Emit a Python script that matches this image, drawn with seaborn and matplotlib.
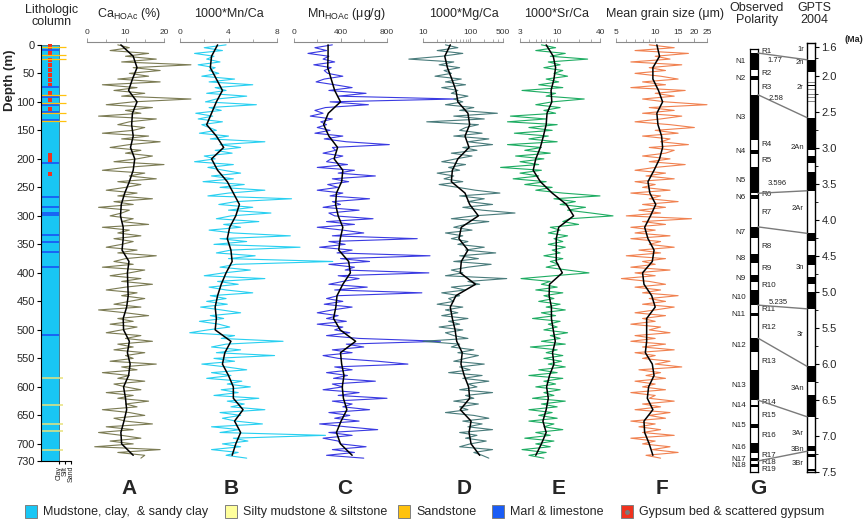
import numpy as np
import matplotlib
matplotlib.use("Agg")
import matplotlib.pyplot as plt
import seaborn as sns
from matplotlib.patches import Rectangle, ConnectionPatch
from matplotlib.lines import Line2D
from matplotlib.ticker import MultipleLocator, NullFormatter

W, H = 865, 522


def rect(x0, x1, y0, y1):
    # pixel box -> figure fraction
    return [x0 / W, 1 - y1 / H, (x1 - x0) / W, (y1 - y0) / H]


def fxy(x, y):
    return x / W, 1 - y / H


# ---------------- data ----------------
depth_raw = np.arange(0, 730, 5)        # sample depths (m)
depth_smooth = np.arange(0, 740, 20)    # running mean depths (m)

ca_raw = [8, 11, 6, 16, 10, 18, 9, 27, 12, 19,
          11, 16, 8, 19, 4, 13, 7, 15, 9, 27,
          12, 5, 17, 10, 14, 3, 18, 11, 8, 15,
          12, 4, 16, 9, 19, 11, 6, 14, 10, 17,
          13, 7, 20, 10, 4, 15, 11, 18, 8, 14,
          10, 5, 13, 8, 17, 7, 12, 3, 11, 9,
          6, 12, 9, 16, 4, 11, 8, 14, 7, 12,
          9, 5, 13, 8, 18, 10, 7, 12, 4, 15,
          11, 6, 14, 9, 17, 10, 5, 13, 9, 15,
          11, 7, 14, 3, 10, 16, 8, 12, 6, 13,
          9, 5, 14, 10, 17, 8, 12, 7, 15, 10,
          12, 6, 18, 9, 13, 4, 11, 8, 15, 7,
          10, 14, 5, 12, 8, 16, 10, 13, 4, 11,
          15, 7, 10, 17, 5, 12, 3, 9, 14, 6,
          12, 2, 19, 8, 15, 14]
ca_smooth = [8.8, 12.0, 13.0, 11.8, 10.8, 13.0, 11.8, 11.6, 12.0, 11.3,
             12.4, 12.0, 11.0, 9.8, 8.9, 8.7, 9.4, 9.4, 9.1, 10.9,
             10.5, 10.6, 10.7, 10.3, 9.4, 9.5, 11.0, 10.5, 11.2, 10.8,
             9.5, 10.0, 10.3, 9.6, 8.8, 9.0, 12.0]

mnca_raw = [3.8, 2.0, 3.5, 1.2, 2.8, 2.2, 3.3, 1.5, 2.9, 2.4,
            3.2, 1.8, 4.5, 2.4, 6.0, 2.9, 3.8, 2.2, 5.5, 3.0,
            2.1, 6.3, 2.4, 3.4, 1.3, 2.7, 1.5, 3.5, 1.8, 2.4,
            3.0, 1.6, 4.0, 2.5, 7.0, 3.3, 5.0, 2.9, 4.3, 2.0,
            2.9, 1.2, 4.4, 2.3, 3.6, 5.0, 2.6, 4.4, 1.9, 5.3,
            3.3, 7.0, 4.0, 2.3, 9.2, 4.6, 3.2, 6.0, 4.0, 7.5,
            4.2, 3.0, 6.5, 3.6, 5.0, 2.4, 4.4, 9.1, 3.3, 5.5,
            2.8, 9.9, 4.2, 3.0, 6.2, 4.0, 12.6, 4.6, 3.3, 5.8,
            3.6, 2.0, 7.0, 3.1, 4.8, 2.4, 3.8, 6.0, 2.5, 3.8,
            2.2, 3.9, 1.7, 3.4, 5.0, 2.5, 3.6, 1.6, 3.2, 4.1,
            2.3, 0.8, 4.5, 3.4, 8.5, 3.8, 2.6, 5.0, 3.0, 7.8,
            2.8, 4.5, 1.8, 3.8, 5.5, 2.6, 4.2, 2.2, 5.1, 3.9,
            5.8, 3.4, 4.8, 2.8, 6.5, 3.9, 5.3, 4.2, 7.0, 3.3,
            5.0, 3.5, 4.6, 6.8, 2.6, 4.9, 3.3, 12.0, 4.4, 5.6,
            3.5, 5.0, 2.6, 4.8, 3.8, 5.5]
mnca_smooth = [3.1, 2.6, 2.5, 3.0, 3.5, 3.0, 2.6, 2.2, 3.0, 3.6,
               2.6, 3.1, 3.9, 4.4, 4.9, 4.6, 4.1, 3.9, 4.2, 4.3,
               3.8, 3.4, 3.1, 2.9, 3.0, 2.9, 4.2, 3.7, 3.5, 4.0,
               4.4, 4.4, 5.2, 4.5, 5.0, 4.6, 4.3]

mn_raw = [330, 180, 280, 120, 300, 250, 350, 170, 320, 260,
          290, 420, 260, 190, 350, 500, 300, 620, 380, 1390,
          310, 640, 270, 180, 250, 140, 330, 230, 280, 200,
          310, 180, 420, 260, 450, 820, 330, 360, 250, 420,
          320, 280, 460, 200, 520, 380, 700, 330, 470, 290,
          380, 200, 420, 310, 650, 330, 400, 250, 560, 300,
          350, 680, 280, 520, 200, 420, 600, 330, 1060, 300,
          440, 220, 500, 370, 1170, 400, 650, 300, 520, 440,
          1160, 380, 560, 420, 300, 630, 350, 1100, 380, 280,
          420, 260, 500, 330, 200, 380, 280, 450, 200, 420,
          350, 480, 280, 560, 1260, 450, 600, 330, 500, 250,
          380, 720, 980, 350, 500, 280, 460, 340, 700, 330,
          420, 250, 560, 380, 800, 330, 500, 420, 650, 300,
          480, 350, 560, 220, 450, 720, 300, 500, 250, 380,
          400, 620, 330, 520, 280, 600]
mn_smooth = [293, 293, 290, 320, 350, 400, 295, 255, 300, 375,
             345, 420, 410, 365, 358, 380, 420, 398, 385, 470,
             485, 420, 370, 360, 340, 397, 530, 400, 410, 430,
             415, 425, 455, 405, 365, 400, 500]

mgca_raw = [30, 55, 20, 70, 25, 5, 45, 22, 60, 28,
            40, 18, 65, 30, 80, 25, 55, 40, 90, 45,
            70, 30, 120, 60, 380, 45, 200, 12, 150, 80,
            60, 180, 45, 250, 90, 300, 70, 140, 40, 110,
            50, 25, 80, 35, 60, 20, 45, 28, 70, 22,
            55, 130, 430, 60, 200, 90, 300, 70, 180, 900,
            120, 40, 250, 80, 45, 110, 30, 70, 40, 90,
            55, 200, 80, 350, 60, 150, 45, 280, 90, 40,
            70, 30, 600, 90, 160, 40, 80, 25, 60, 35,
            45, 20, 70, 30, 55, 25, 90, 35, 60, 22,
            70, 30, 45, 90, 10, 60, 40, 120, 55, 150,
            80, 45, 200, 60, 100, 35, 180, 70, 250, 90,
            140, 60, 300, 80, 120, 45, 150, 60, 90, 30,
            120, 250, 70, 180, 90, 300, 60, 140, 80, 220,
            100, 60, 300, 120, 180, 250]
mgca_smooth = [38, 29, 33, 41, 50, 55, 90, 98, 78, 95,
               55, 42, 40, 78, 98, 150, 65, 58, 90, 65,
               62, 130, 50, 38, 42, 48, 52, 68, 64, 75,
               93, 98, 62, 105, 95, 105, 160]

srca_raw = [6.0, 9.5, 5.0, 13.0, 8.0, 26.8, 7.5, 11.0, 6.5, 12.0,
            9.0, 14.0, 7.0, 10.5, 5.5, 12.0, 3.2, 9.5, 7.0, 24.0,
            8.5, 5.0, 11.0, 6.5, 9.5, 2.2, 7.0, 2.0, 10.0, 4.0,
            8.5, 2.5, 7.5, 4.0, 10.0, 2.0, 6.0, 3.5, 8.0, 2.6,
            6.5, 3.0, 5.5, 1.6, 6.0, 3.0, 5.5, 2.4, 7.0, 3.5,
            8.5, 5.0, 12.0, 40.0, 9.0, 18.0, 11.0, 25.0, 14.0, 30.0,
            61.0, 15.0, 12.0, 20.0, 8.0, 11.0, 7.5, 14.0, 9.0, 12.0,
            7.5, 13.0, 8.5, 11.0, 6.5, 12.0, 8.0, 10.5, 7.0, 14.0,
            28.0, 9.0, 3.1, 8.0, 6.0, 10.0, 5.0, 12.0, 6.5, 9.0,
            5.5, 11.0, 7.0, 13.0, 6.0, 9.5, 4.5, 11.0, 7.5, 10.0,
            6.5, 14.0, 8.0, 11.0, 6.0, 13.0, 4.2, 10.0, 7.0, 12.0,
            6.5, 11.5, 7.5, 13.0, 5.5, 10.0, 4.0, 12.0, 6.5, 9.5,
            5.0, 11.0, 6.5, 9.0, 4.5, 13.0, 6.0, 10.0, 4.0, 8.5,
            5.5, 10.0, 4.0, 9.0, 6.5, 12.0, 5.0, 8.0, 3.5, 9.0,
            5.0, 8.0, 3.2, 7.0, 4.0, 6.5]
srca_smooth = [7.0, 8.8, 9.5, 9.0, 8.2, 8.4, 7.2, 7.0, 6.4, 5.8,
               5.0, 4.6, 5.8, 8.5, 13.5, 17.0, 10.5, 9.7, 9.7, 9.7,
               11.8, 7.8, 7.7, 8.3, 8.3, 8.8, 9.4, 8.6, 9.0, 7.8,
               7.1, 7.5, 7.0, 6.3, 7.0, 6.0, 5.0]

gs_raw = [9, 14, 7, 18, 10, 13, 6.5, 16, 9, 12,
          7, 11, 15, 8, 12, 6.5, 17, 10, 14, 8,
          12, 25, 9, 14, 8, 16, 11, 7, 13, 20,
          10, 15, 8, 13, 11, 18, 9, 14, 12, 8,
          13, 9, 17, 10, 7, 12, 8.5, 14, 7, 10,
          8, 13, 6.5, 11, 9, 15, 8, 12, 7.5, 11,
          6, 19, 8, 12, 6.5, 10, 7, 13, 6.5, 11,
          9, 14, 7.5, 11, 6, 12, 8, 10, 6.5, 13,
          7, 10, 5.5, 9, 12, 7, 11, 8, 15, 9,
          12, 8, 14, 10, 7, 12, 8, 10, 6.5, 11,
          9, 13, 7, 10, 6.5, 12, 8, 14, 7, 10,
          8, 13, 10, 16, 7.5, 11, 8.5, 12, 7, 10,
          8, 12, 6.5, 10, 9, 14, 8, 11, 7, 13,
          9, 12, 6.5, 10, 7.5, 11, 8, 14, 6.5, 10,
          8, 13, 9.5, 15, 8.5, 11]
gs_smooth = [10.3, 10.8, 9.6, 9.6, 10.6, 11.4, 10.3, 10.5, 11.2, 11.4,
             10.8, 9.8, 8.8, 9.1, 10.1, 9.2, 8.3, 8.8, 9.8, 9.5,
             8.0, 8.2, 9.4, 10.0, 8.6, 8.6, 8.6, 8.4, 9.5, 9.8,
             8.9, 8.7, 9.6, 8.2, 8.3, 9.0, 9.6]

# lithology (depth in m)
marl_depths = [9, 74, 91, 105, 117, 132, 207, 266, 284, 294, 298, 333, 345, 363, 390, 509]
sand_depths = [3, 17, 25, 88, 101, 119, 133]
silt_depths = [584, 631, 665, 678, 710]
gypsum_depths = [1, 8, 16, 26, 35, 44, 53, 61, 70, 84, 96, 113, 193, 198, 203, 226]
grain_classes = ["Clay", "Silt", "Sand"]

# observed polarity: normal zones (top, base) in m
obs_n_top = [7, 47, 79, 174, 204, 252, 307, 354, 390, 416, 456, 499, 554, 614, 647, 680, 706, 716]
obs_n_base = [36, 54, 157, 181, 249, 259, 326, 369, 402, 442, 461, 523, 606, 618, 654, 697, 711, 721]
obs_r_top = [0, 36, 54, 157, 181, 249, 259, 326, 369, 402, 442, 461, 523, 606, 618, 654, 697, 711, 721]
obs_r_base = [7, 47, 79, 174, 204, 252, 307, 354, 390, 416, 456, 499, 554, 614, 647, 680, 706, 716, 730]

# GPTS 2004 normal chrons (Ma)
gpts_n_top = [1.778, 2.128, 2.581, 3.116, 3.330, 4.187, 4.493, 4.799, 4.997, 6.033, 6.436, 7.140, 7.251, 7.454]
gpts_n_base = [1.945, 2.148, 3.032, 3.207, 3.596, 4.300, 4.631, 4.896, 5.235, 6.252, 6.733, 7.212, 7.285, 7.489]
gpts_crypto = [2.09, 2.19, 2.25, 2.30, 2.35]
chron_names = ["1r", "2n", "2r", "2An", "2Ar", "3n", "3r", "3An", "3Ar", "3Bn", "3Br"]
chron_label_age = [1.63, 1.81, 2.16, 2.99, 3.84, 4.66, 5.59, 6.34, 6.97, 7.19, 7.38]
ma_ticks = [1.6, 2.0, 2.5, 3.0, 3.5, 4.0, 4.5, 5.0, 5.5, 6.0, 6.5, 7.0, 7.5]

# tie points depth (m) -> age (Ma)
tie_depth = [7, 79, 249, 307, 442, 499, 606, 711]
tie_age = [1.778, 2.581, 3.596, 4.187, 5.235, 6.033, 6.733, 7.212]
tie_labels = ["1.77", "2.58", "3.596", "5.235"]

# ---------------- style ----------------
sns.set_style("ticks")
plt.rcParams["font.family"] = ["Liberation Sans", "DejaVu Sans"]
plt.rcParams["mathtext.fontset"] = "custom"
plt.rcParams["mathtext.rm"] = "Liberation Sans"
plt.rcParams["mathtext.it"] = "Liberation Sans"

mud_c = "#19c6f4"
silt_c = "#ffff9c"
sand_c = "#ffc20e"
marl_c = "#1a5cf5"
gyp_c = "#f0321e"

fig = plt.figure(figsize=(8.65, 5.22), dpi=100)

# ---------------- geochemistry / grain size panels ----------------
panels = [
    (ca_raw, ca_smooth, "#74744a", (0, 20), "linear", [0, 10, 20], 5, (87, 164)),
    (mnca_raw, mnca_smooth, "#1ccdf0", (0, 8), "linear", [0, 4, 8], 2, (180, 277)),
    (mn_raw, mn_smooth, "#2f2fe0", (0, 800), "linear", [0, 400, 800], 200, (294, 387)),
    (mgca_raw, mgca_smooth, "#3f7474", (10, 500), "log", [10, 100, 500], None, (423, 503)),
    (srca_raw, srca_smooth, "#12a85a", (3, 40), "log", [3, 10, 40], None, (520, 600)),
    (gs_raw, gs_smooth, "#f07a46", (5, 25), "log", [5, 10, 15, 20, 25], None, (616, 707)),
]

for raw, smooth, col, lim, scale, ticks, minor, (x0, x1) in panels:
    ax = fig.add_axes(rect(x0, x1, 42, 461))
    ax.patch.set_alpha(0)
    if scale == "log":
        ax.set_xscale("log")
    sns.lineplot(x=raw, y=depth_raw, orient="y", estimator=None, color=col,
                 lw=0.8, alpha=0.95, ax=ax, clip_on=False)
    sns.lineplot(x=smooth, y=depth_smooth, orient="y", estimator=None, color="black",
                 lw=1.1, ax=ax, clip_on=False)
    ax.set_xlim(lim)
    ax.set_ylim(730, -5)
    ax.set_xticks(ticks, [str(t) for t in ticks])
    if minor:
        ax.xaxis.set_minor_locator(MultipleLocator(minor))
    ax.xaxis.set_minor_formatter(NullFormatter())
    ax.xaxis.tick_top()
    ax.set_yticks([])
    ax.set_xlabel("")
    ax.set_ylabel("")
    for s in ["left", "right", "bottom"]:
        ax.spines[s].set_visible(False)
    ax.spines["top"].set_color("#8a8a8a")
    ax.spines["top"].set_linewidth(0.8)
    ax.tick_params(axis="x", which="major", length=3, width=0.6, color="#8a8a8a",
                   labelsize=6, pad=1, labelcolor="#333333")
    ax.tick_params(axis="x", which="minor", length=2, width=0.5, color="#8a8a8a")

# ---------------- lithologic column ----------------
axL = fig.add_axes(rect(41, 71, 45, 461))
axL.patch.set_alpha(0)
axL.fill_betweenx([0, 730], 0, 0.6, color=mud_c, ec="#4a7f90", lw=0.7)
axL.hlines(marl_depths, 0, 0.6, color=marl_c, lw=1.3)
axL.hlines(silt_depths, 0, 0.72, color="#e8e27a", lw=1.1)
axL.hlines(sand_depths, 0, 0.85, color=sand_c, lw=0.9)
sns.scatterplot(x=[0.3] * len(gypsum_depths), y=gypsum_depths, marker="s", s=5,
                color=gyp_c, linewidth=0, ax=axL, clip_on=False)
axL.set_xlim(0, 1)
axL.set_ylim(730, 0)
axL.set_yticks(list(range(0, 701, 50)) + [730])
axL.set_xticks([0.6, 0.8, 1.0], grain_classes, rotation=90)
axL.set_xlabel("")
axL.set_ylabel("")
for s in ["top", "right"]:
    axL.spines[s].set_visible(False)
axL.spines["left"].set_color("black")
axL.spines["bottom"].set_color("black")
axL.tick_params(axis="y", length=3, width=0.8, labelsize=8, pad=1.5, color="black")
axL.tick_params(axis="x", length=2.5, width=0.8, labelsize=5, pad=1, color="black")

fig.text(*fxy(10, 80), "Depth (m)", rotation=90, ha="center", va="center",
         fontsize=9.5, fontweight="bold")

# ---------------- observed polarity ----------------
axO = fig.add_axes(rect(750, 758, 49, 472))
axO.barh(obs_n_top, 1, height=np.array(obs_n_base) - np.array(obs_n_top),
         align="edge", color="black", lw=0)
axO.set_xlim(0, 1)
axO.set_ylim(730, 0)
axO.set_xticks([])
axO.set_yticks([])
for s in axO.spines.values():
    s.set_color("black")
    s.set_linewidth(0.9)
ytr = axO.get_yaxis_transform()
for i, (t, b) in enumerate(zip(obs_n_top, obs_n_base)):
    axO.text(-0.5, (t + b) / 2, f"N{i + 1}", transform=ytr, ha="right", va="center",
             fontsize=5.8, color="#222222")
for i, (t, b) in enumerate(zip(obs_r_top, obs_r_base)):
    axO.text(1.4, (t + b) / 2, f"R{i + 1}", transform=ytr, ha="left", va="center",
             fontsize=5.8, color="#222222")

# ---------------- GPTS 2004 ----------------
axG = fig.add_axes(rect(807, 815, 43, 472))
axG.barh(gpts_n_top, 1, height=np.array(gpts_n_base) - np.array(gpts_n_top),
         align="edge", color="black", lw=0)
axG.hlines(gpts_crypto, 0, 1, color="#555555", lw=0.5)
axG.set_xlim(0, 1)
axG.set_ylim(7.5, 1.545)
axG.set_xticks([])
axG.yaxis.tick_right()
axG.set_yticks(ma_ticks, [f"{v:.1f}" for v in ma_ticks])
axG.yaxis.set_minor_locator(MultipleLocator(0.25))
axG.tick_params(axis="y", which="major", length=3, width=0.8, labelsize=8, pad=1.5, color="black")
axG.tick_params(axis="y", which="minor", length=2, width=0.6, color="black")
for s in axG.spines.values():
    s.set_color("black")
    s.set_linewidth(1.0)
gtr = axG.get_yaxis_transform()
for name, age in zip(chron_names, chron_label_age):
    axG.text(-0.4, age, name, transform=gtr, ha="right", va="center", fontsize=5.5,
             color="#222222")
fig.text(*fxy(863, 40), "(Ma)", fontsize=6.5, fontweight="bold", ha="right", va="center")

# tie lines between observed polarity and GPTS
for d, a in zip(tie_depth, tie_age):
    con = ConnectionPatch(xyA=(1, d), coordsA=axO.get_yaxis_transform(),
                          xyB=(0, a), coordsB=axG.get_yaxis_transform(),
                          color="#7a7a7a", lw=1.0)
    fig.add_artist(con)
for lab, (lx, ly) in zip(tie_labels, [(775, 60), (776, 98), (777, 183), (778, 302)]):
    fig.text(*fxy(lx, ly), lab, fontsize=5.5, ha="center", va="center", color="#222222")

# ---------------- headers ----------------
titles = [
    ("Lithologic\ncolumn", 52, 16),
    (r"Ca$_{\mathregular{HOAc}}$ (%)", 129, 14),
    ("1000*Mn/Ca", 229, 14),
    (r"Mn$_{\mathregular{HOAc}}$ (μg/g)", 346, 14),
    ("1000*Mg/Ca", 464, 14),
    ("1000*Sr/Ca", 557, 14),
    ("Mean grain size (μm)", 665, 14),
    ("Observed\nPolarity", 757, 14),
    ("GPTS\n2004", 814, 14),
]
for txt, x, y in titles:
    fig.text(*fxy(x, y), txt, ha="center", va="center", fontsize=9, linespacing=1.05)

letters = ["A", "B", "C", "D", "E", "F", "G"]
letter_x = [129, 231, 345, 464, 559, 662, 758]
for lt, x in zip(letters, letter_x):
    fig.text(*fxy(x, 489), lt, ha="center", va="center", fontsize=15, fontweight="bold",
             family=["Liberation Sans Narrow", "Liberation Sans"])

# ---------------- legend ----------------
legend_items = [("Mudstone, clay,  & sandy clay", mud_c),
                ("Silty mudstone & siltstone", silt_c),
                ("Sandstone", sand_c),
                ("Marl & limestone", marl_c),
                ("Gypsum bed & scattered gypsum", gyp_c)]
legend_x = [25, 225, 398, 492, 621]
for (lab, c), x in zip(legend_items, legend_x):
    fig.add_artist(Rectangle(fxy(x, 518), 12 / W, 13 / H, transform=fig.transFigure,
                             fc=c, ec="#7f7f7f", lw=0.7))
    fig.text(*fxy(x + 18, 512), lab, ha="left", va="center", fontsize=9,
             family=["Liberation Sans Narrow", "Liberation Sans"])
fig.add_artist(Line2D([(621 + 6) / W], [1 - 511.5 / H], marker="o", ms=2.5,
                      color="#7a7a7a", transform=fig.transFigure))

fig.savefig("out.png", dpi=100)
